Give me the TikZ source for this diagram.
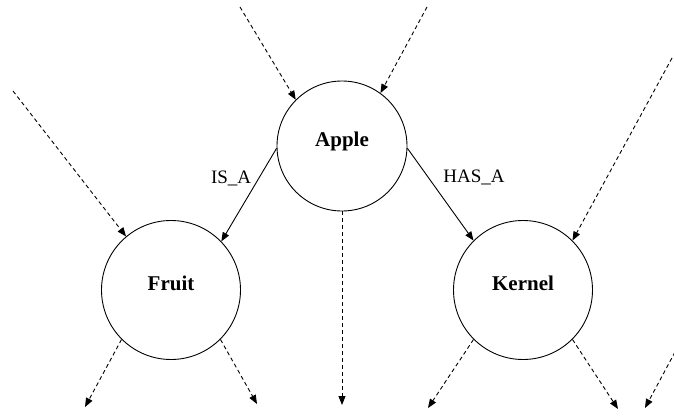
\documentclass[tikz,border=0pt]{standalone}
\usepackage{fontspec}
\setmainfont{Liberation Serif}
\usetikzlibrary{arrows.meta}
\begin{document}
\begin{tikzpicture}[x=1pt,y=-1pt,
  concept/.style={circle, draw, line width=0.9pt, fill=white,
    text height=0pt, text depth=0pt,
    font=\bfseries\fontsize{21}{25}\selectfont},
  rel/.style={draw, line width=0.9pt, -{Triangle[length=9pt,width=7pt]}},
  link/.style={rel, dash pattern=on 4pt off 3pt},
  rellabel/.style={font=\fontsize{19}{23}\selectfont, inner sep=0pt}]
\useasboundingbox (0,0) rectangle (674,415);

% concepts
\node[concept, minimum size=130pt] (apple)  at (342,146) {Apple};
\node[concept, minimum size=139pt] (fruit)  at (171,290) {Fruit};
\node[concept, minimum size=139pt] (kernel) at (523,290) {Kernel};

% loose ends of the dashed links
\coordinate (inA1)  at (240,7);
\coordinate (inA2)  at (427,7);
\coordinate (inF)   at (13,91);
\coordinate (inK)   at (672,58);
\coordinate (outA)  at (342,405);
\coordinate (outF1) at (85,407);
\coordinate (outF2) at (257,404);
\coordinate (outK1) at (428,408);
\coordinate (outK2) at (618,409);
\coordinate (inX)   at (675,352);
\coordinate (outX)  at (645,408);

% relations
\draw[rel] (apple.182) -- node[rellabel, pos=0.38, anchor=base east, xshift=-4pt] (isa) {IS\_A} (fruit.44);
\draw[rel] (apple.358) -- node[rellabel, pos=0.37, anchor=base west, xshift=11pt] (hasa) {HAS\_A} (kernel.135);

% dashed links
\draw[link] (inA1) -- (apple.135);
\draw[link] (inA2) -- (apple.54);
\draw[link] (inF) -- (fruit.130);
\draw[link] (inK) -- (kernel.45);
\draw[link] (apple.south) -- (outA);
\draw[link] (fruit.225) -- (outF1);
\draw[link] (fruit.315) -- (outF2);
\draw[link] (kernel.225) -- (outK1);
\draw[link] (kernel.315) -- (outK2);
\draw[link] (inX) -- (outX);
\end{tikzpicture}
\end{document}
